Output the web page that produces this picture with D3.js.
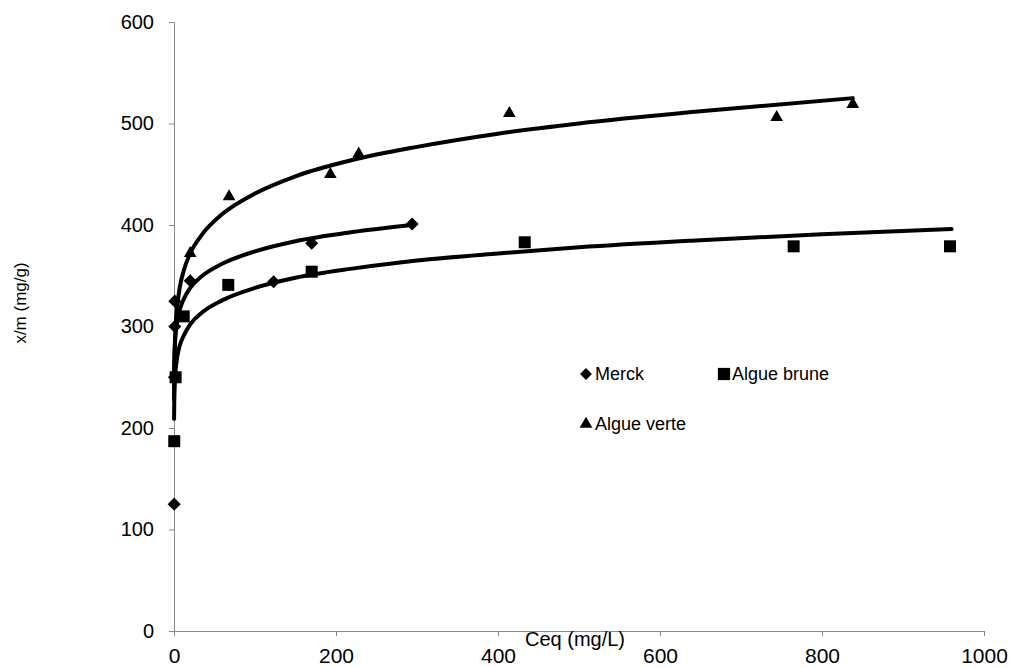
<!DOCTYPE html>
<html>
<head>
<meta charset="utf-8">
<script src="https://cdn.jsdelivr.net/npm/d3@7"></script>
<style>
  body { margin: 0; background: #fff; }
  svg { font-family: "Liberation Sans", Arial, sans-serif; }
</style>
</head>
<body>
<svg id="chart" width="1014" height="668"></svg>
<script>
// measured points (Ceq mg/L, x/m mg/g)
var merckX = [0.2, 0.5, 1, 1, 20, 123, 170, 294];
var merckY = [125, 250, 300, 325, 345, 344, 382, 401];

var bruneX = [0.3, 2, 12, 67, 170, 433, 765, 958];
var bruneY = [187, 250, 310, 341, 354, 383, 379, 379];

var verteX = [20, 68, 193, 228, 414, 744, 838];
var verteY = [372, 428, 450, 470, 510, 506, 519];

// trend lines
var trendMerckX = [0.1, 0.3, 1, 2, 4, 7, 12, 20, 35, 60, 100, 150, 220, 294];
var trendMerckY = [241, 258, 279, 292, 305, 316, 327, 338, 350, 362, 374, 384, 393, 400];

var trendBruneX = [0.1, 0.3, 1, 2, 4, 7, 12, 20, 35, 60, 100, 150, 220, 300, 400, 500, 650, 800, 960];
var trendBruneY = [209, 225, 245, 257, 270, 281, 291, 302, 314, 326, 338, 348, 357, 365, 372, 378, 385, 391, 396];

var trendVerteX = [0.1, 0.3, 1, 2, 4, 7, 12, 20, 35, 60, 100, 150, 220, 300, 400, 500, 650, 838];
var trendVerteY = [228, 252, 282, 301, 320, 338, 355, 372, 391, 411, 431, 448, 464, 477, 490, 500, 512, 525];

var xTicks = [0, 200, 400, 600, 800, 1000];
var yTicks = [0, 100, 200, 300, 400, 500, 600];

function zip(xs, ys) {
    return xs.map(function(v, i) { return [v, ys[i]]; });
}

var svg = d3.select("#chart");

var x = d3.scaleLinear().domain([0, 1000]).range([174, 984]);
var y = d3.scaleLinear().domain([0, 600]).range([631, 22]);

var axisColor = "#868686";
var fontFam = "Liberation Sans, Arial, sans-serif";

// y axis
var yAxis = svg.append("g")
    .attr("transform", "translate(" + x(0) + ",0)")
    .call(d3.axisLeft(y).tickValues(yTicks).tickFormat(d3.format("d")).tickSize(5).tickPadding(15));
yAxis.select(".domain").attr("stroke", axisColor);
yAxis.selectAll(".tick line").attr("stroke", axisColor);
yAxis.selectAll(".tick text").attr("font-size", 20).attr("fill", "#000")
    .attr("font-family", fontFam);

// x axis
var xAxis = svg.append("g")
    .attr("transform", "translate(0," + y(0) + ")")
    .call(d3.axisBottom(x).tickValues(xTicks).tickFormat(d3.format("d")).tickSize(5).tickPadding(12));
xAxis.select(".domain").attr("stroke", axisColor);
xAxis.selectAll(".tick line").attr("stroke", axisColor);
xAxis.selectAll(".tick text").attr("font-size", 21).attr("fill", "#000")
    .attr("font-family", fontFam);

// axis titles
svg.append("text")
    .attr("x", 575).attr("y", 646)
    .attr("text-anchor", "middle")
    .attr("font-size", 20)
    .text("Ceq (mg/L)");

svg.append("text")
    .attr("transform", "translate(26,303) rotate(-90)")
    .attr("text-anchor", "middle")
    .attr("font-size", 17)
    .text("x/m (mg/g)");

// trend lines
var line = d3.line()
    .x(function(d) { return x(d[0]); })
    .y(function(d) { return y(d[1]); })
    .curve(d3.curveMonotoneX);

[zip(trendBruneX, trendBruneY), zip(trendMerckX, trendMerckY), zip(trendVerteX, trendVerteY)]
    .forEach(function(pts) {
        svg.append("path")
            .attr("d", line(pts))
            .attr("fill", "none")
            .attr("stroke", "#000")
            .attr("stroke-width", 4)
            .attr("stroke-linecap", "round")
            .attr("stroke-linejoin", "round");
    });

// markers
var diamond = d3.symbol().type(d3.symbolSquare).size(85);
var square = d3.symbol().type(d3.symbolSquare).size(144);
var triangle = d3.symbol().type(d3.symbolTriangle).size(70);

function drawMarkers(pts, sym, rot) {
    svg.append("g").selectAll("path")
        .data(pts)
        .enter().append("path")
        .attr("d", sym)
        .attr("fill", "#000")
        .attr("transform", function(d) {
            return "translate(" + x(d[0]) + "," + y(d[1]) + ")" + (rot ? " rotate(45)" : "");
        });
}

drawMarkers(zip(merckX, merckY), diamond, true);
drawMarkers(zip(bruneX, bruneY), square, false);
drawMarkers(zip(verteX, verteY), triangle, false);

// legend
var legend = [
    {name: "Merck", sym: d3.symbol().type(d3.symbolSquare).size(70), rot: true, mx: 586, my: 374, tx: 595, ty: 380},
    {name: "Algue brune", sym: d3.symbol().type(d3.symbolSquare).size(150), rot: false, mx: 724, my: 374, tx: 732, ty: 380},
    {name: "Algue verte", sym: d3.symbol().type(d3.symbolTriangle).size(70), rot: false, mx: 586, my: 424, tx: 595, ty: 430}
];

legend.forEach(function(l) {
    svg.append("path")
        .attr("d", l.sym)
        .attr("fill", "#000")
        .attr("transform", "translate(" + l.mx + "," + l.my + ")" + (l.rot ? " rotate(45)" : ""));
    svg.append("text")
        .attr("x", l.tx).attr("y", l.ty)
        .attr("font-size", 18)
        .text(l.name);
});
</script>
</body>
</html>
